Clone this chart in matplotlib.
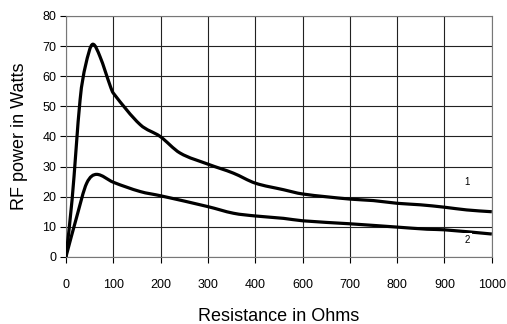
import matplotlib
matplotlib.use("Agg")
import matplotlib.pyplot as plt
from matplotlib.path import Path
from matplotlib.patches import PathPatch

# Datos (x en posiciones de marca 0..9)
etiquetas_x = ["0", "100", "200", "300", "400", "600", "700", "800", "900", "1000"]

x_curva1 = [0, 0.13, 0.30, 0.41, 0.57, 0.72, 0.94, 1.0, 1.57, 1.99, 2.41, 3.0,
            3.54, 4.0, 4.6, 5.0, 6.0, 6.5, 7.0, 7.49, 8.0, 8.47, 9.0]
y_curva1 = [0, 18.9, 52.2, 63.2, 70.6, 66.5, 56.6, 54.4, 43.9, 40.0, 34.5, 30.8,
            27.8, 24.5, 22.3, 20.9, 19.2, 18.7, 17.8, 17.3, 16.5, 15.6, 15.0]

x_curva2 = [0, 0.23, 0.44, 0.65, 1.0, 1.57, 2.0, 3.0, 3.54, 4.0, 4.6, 5.0,
            6.0, 7.0, 7.63, 8.0, 9.0]
y_curva2 = [0, 13.4, 24.5, 27.4, 24.8, 21.7, 20.3, 16.7, 14.5, 13.6, 12.8, 12.0,
            11.0, 9.9, 9.2, 9.0, 7.6]


# Trazo suave (Hermite en x convertido a beziers), solo para dibujar
def trazo_suave(xs, ys):
    n = len(xs)
    m = []
    for i in range(n):
        a = max(i - 1, 0)
        b = min(i + 1, n - 1)
        m.append((ys[b] - ys[a]) / (xs[b] - xs[a]))
    # picos: pendiente cero en los maximos locales
    for i in range(1, n - 1):
        if ys[i] >= ys[i - 1] and ys[i] >= ys[i + 1]:
            m[i] = 0.0
    verts = [(xs[0], ys[0])]
    codes = [Path.MOVETO]
    for i in range(n - 1):
        dx = xs[i + 1] - xs[i]
        verts += [(xs[i] + dx / 3, ys[i] + m[i] * dx / 3),
                  (xs[i + 1] - dx / 3, ys[i + 1] - m[i + 1] * dx / 3),
                  (xs[i + 1], ys[i + 1])]
        codes += [Path.CURVE4] * 3
    return Path(verts, codes)


plt.rcParams['font.family'] = ['Liberation Sans', 'DejaVu Sans']

fig = plt.figure(figsize=(5.07, 3.24), dpi=100)
ax = fig.add_axes([0.130, 0.207, 0.840, 0.744])

for xs, ys in [(x_curva1, y_curva1), (x_curva2, y_curva2)]:
    ax.add_patch(PathPatch(trazo_suave(xs, ys), facecolor="none", edgecolor="black",
                           lw=2.3, joinstyle="round", zorder=3))

# etiquetas de las curvas
ax.text(8.48, 24.9, "1", fontsize=7, ha="center", va="center", zorder=4)
ax.text(8.48, 5.6, "2", fontsize=7, ha="center", va="center", zorder=4,
        bbox=dict(facecolor="white", edgecolor="none", pad=1.5))

ax.set_xlim(0, 9)
ax.set_ylim(0, 80)
ax.set_xticks(range(len(etiquetas_x)))
ax.set_xticklabels(etiquetas_x)
ax.set_yticks(range(0, 81, 10))
ax.tick_params(direction="out", length=4, width=0.8, labelsize=9, pad=3)
ax.tick_params(axis="x", pad=12)

ax.grid(True, color="#222222", lw=0.8)
for lado in ax.spines.values():
    lado.set_color("#777777")
    lado.set_linewidth(0.8)

ax.set_xlabel("Resistance in Ohms", fontsize=13, labelpad=12)
ax.set_ylabel("RF power in Watts", fontsize=13, labelpad=10)

plt.savefig("out.png", dpi=100)
plt.close()
